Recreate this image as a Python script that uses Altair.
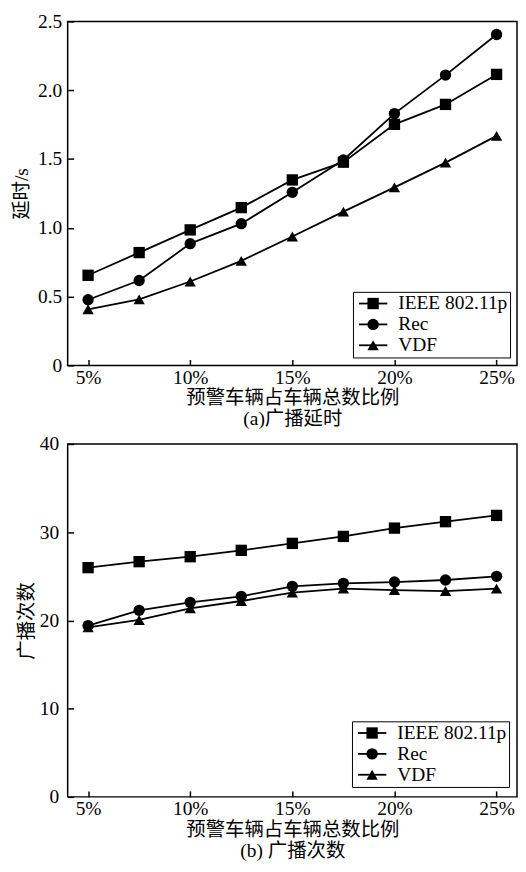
import altair as alt
import pandas as pd

x_vals = [5, 7.5, 10, 12.5, 15, 17.5, 20, 22.5, 25]
series_names = ["IEEE 802.11p", "Rec", "VDF"]
shapes = ["square", "circle", "triangle-up"]

delay_ieee = [0.655, 0.82, 0.985, 1.147, 1.348, 1.477, 1.752, 1.897, 2.115]
delay_rec = [0.477, 0.617, 0.885, 1.03, 1.258, 1.493, 1.83, 2.11, 2.405]
delay_vdf = [0.408, 0.48, 0.61, 0.76, 0.937, 1.118, 1.294, 1.474, 1.668]

count_ieee = [25.98, 26.66, 27.22, 27.94, 28.73, 29.52, 30.46, 31.19, 31.9]
count_rec = [19.41, 21.14, 22.05, 22.73, 23.86, 24.2, 24.35, 24.58, 25.0]
count_vdf = [19.22, 20.05, 21.37, 22.2, 23.15, 23.6, 23.44, 23.33, 23.6]

x_ticks = [5, 10, 15, 20, 25]
delay_ticks = [0, 0.5, 1.0, 1.5, 2.0, 2.5]
count_ticks = [0, 10, 20, 30, 40]

x_title = "预警车辆占车辆总数比例"
caption_a = "(a)广播延时"
caption_b = "(b) 广播次数"
ytitle_a = "延时/s"
ytitle_b = "广播次数"

FONT = "Liberation Serif, Noto Sans CJK SC"
FS = 19.5
SYM = 130
LINE_PATH = "M-1,0H4"


def make_df(series_lists):
    rows = []
    for name, vals in zip(series_names, series_lists):
        for xv, yv in zip(x_vals, vals):
            rows.append({"x": xv, "y": yv, "series": name, "series_l": name})
    return pd.DataFrame(rows)


def panel(df, ytitle, ydomain, yticks, ylabel_expr, caption, width, height,
          label_pad, title_pad, leg_x, leg_y):
    x = alt.X(
        "x:Q",
        scale=alt.Scale(domain=[4, 26], nice=False, zero=False),
        axis=alt.Axis(values=x_ticks, labelExpr="datum.value + '%'",
                      title=[x_title, caption], labelPadding=3,
                      titlePadding=2, titleLineHeight=21),
    )
    y = alt.Y(
        "y:Q",
        scale=alt.Scale(domain=ydomain, nice=False, zero=True),
        axis=alt.Axis(values=yticks, labelExpr=ylabel_expr, title=ytitle,
                      labelPadding=label_pad, titlePadding=title_pad),
    )
    base = alt.Chart(df)
    lines = base.mark_line(strokeWidth=1.8, color="black").encode(
        x=x, y=y,
        color=alt.Color(
            "series_l:N",
            scale=alt.Scale(range=["black", "black", "black"]),
            legend=alt.Legend(
                orient="none", legendX=leg_x, legendY=leg_y, title=None,
                symbolType=LINE_PATH, symbolSize=SYM, symbolStrokeWidth=1.8,
                symbolStrokeColor="black", symbolFillColor="black",
                labelFont=FONT, labelFontSize=FS,
                labelColor="black", strokeColor="black", padding=2,
                rowPadding=0, labelOffset=24, fillColor="white", zindex=1,
            ),
        ),
    )
    points = base.mark_point(filled=True, size=SYM, opacity=1, color="black").encode(
        x=x, y=y,
        shape=alt.Shape(
            "series:N",
            scale=alt.Scale(range=shapes),
            legend=alt.Legend(
                orient="none", legendX=leg_x + 8.5, legendY=leg_y, title=None,
                symbolSize=SYM, symbolFillColor="black", symbolStrokeColor="black",
                symbolStrokeWidth=1.8, labelFont=FONT, labelFontSize=FS,
                labelExpr="' '", labelOpacity=0, padding=2, rowPadding=0,
                labelOffset=24, zindex=2,
            ),
        ),
    )
    return alt.layer(lines, points).properties(width=width, height=height)


df_a = make_df([delay_ieee, delay_rec, delay_vdf])
df_b = make_df([count_ieee, count_rec, count_vdf])

top = panel(df_a, ytitle_a, [0, 2.5], delay_ticks,
            "datum.value == 0 ? '0' : format(datum.value, '.1f')", caption_a,
            452, 346, 6, 6, 287, 272)
bottom = panel(df_b, ytitle_b, [0, 40], count_ticks,
               "format(datum.value, 'd')", caption_b,
               452, 355, 9, 3, 286, 279)

chart = (
    alt.vconcat(top, bottom, spacing=4)
    .resolve_scale(color="independent", shape="independent")
    .resolve_legend(color="independent", shape="independent")
    .properties(padding={"left": 2, "top": 0, "right": 0, "bottom": 0},
                background="white")
    .configure_view(stroke="black", strokeWidth=1.5)
    .configure_axis(
        domain=False, grid=False, ticks=True, tickSize=6, tickWidth=1.5,
        tickColor="black", offset=-6, labelFont=FONT, labelFontSize=FS,
        labelColor="black", titleFont=FONT, titleFontSize=FS,
        titleFontWeight="normal", titleColor="black",
    )
)

chart.save("out.html", embed_options={"renderer": "svg", "actions": False})
